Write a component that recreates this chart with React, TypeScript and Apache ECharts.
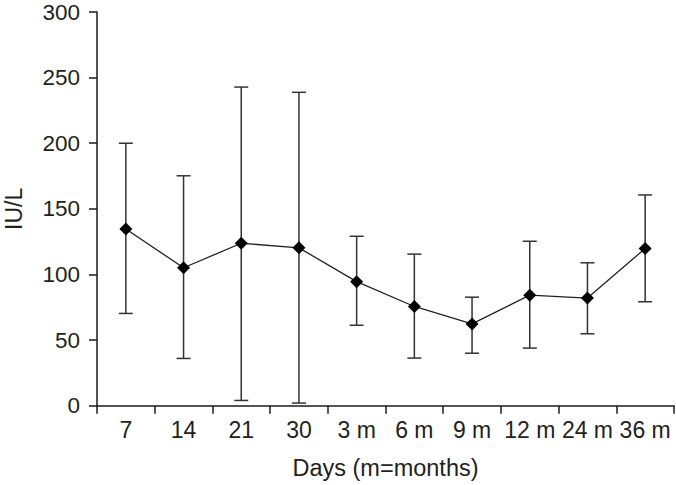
import React, { useEffect, useRef } from "react";
import * as echarts from "echarts";

const categories = ["7", "14", "21", "30", "3 m", "6 m", "9 m", "12 m", "24 m", "36 m"];
const means = [134.6, 105.1, 123.8, 120.3, 94.5, 75.6, 62.3, 84.2, 82.0, 119.8];
const upper = [200, 175.2, 242.8, 238.8, 129.1, 115.5, 82.7, 125.3, 108.9, 160.6];
const lower = [70.3, 36.0, 4.0, 2.0, 61.3, 36.3, 40.0, 43.9, 54.8, 79.2];
const yTicks = { min: 0, max: 300, interval: 50 };

const FONT = "'Liberation Sans', Arial, Helvetica, sans-serif";
const TEXT = "#231f20";

export default function App() {
  const ref = useRef<HTMLDivElement>(null);
  useEffect(() => {
    if (!ref.current) return;
    const chart = echarts.init(ref.current, undefined, { renderer: "svg" });
    const errData = categories.map((_, i) => [i, lower[i], upper[i]]);
    chart.setOption({
      animation: false,
      backgroundColor: "#ffffff",
      textStyle: { fontFamily: FONT },
      grid: { left: 97, right: 2, top: 12, bottom: 79.3, containLabel: false, outerBoundsMode: "none" },
      xAxis: {
        type: "category",
        data: categories,
        boundaryGap: true,
        name: "Days (m=months)",
        nameLocation: "middle",
        nameGap: 50,
        nameTextStyle: { fontSize: 23.5, color: TEXT, fontFamily: FONT },
        axisLine: { show: true, lineStyle: { color: "#1a1a1a", width: 1.5 } },
        axisTick: { show: true, length: 8, alignWithLabel: false, lineStyle: { color: "#1a1a1a", width: 1.5 } },
        axisLabel: { interval: 0, fontSize: 23, color: TEXT, margin: 13, fontFamily: FONT },
        splitLine: { show: false },
      },
      yAxis: {
        type: "value",
        min: yTicks.min,
        max: yTicks.max,
        interval: yTicks.interval,
        name: "IU/L",
        nameLocation: "middle",
        nameGap: 72,
        nameRotate: 90,
        nameTextStyle: { fontSize: 23, color: TEXT, fontFamily: FONT },
        axisLine: { show: true, lineStyle: { color: "#1a1a1a", width: 1.5 } },
        axisTick: { show: true, length: 8, lineStyle: { color: "#1a1a1a", width: 1.5 } },
        axisLabel: { fontSize: 22.5, color: TEXT, margin: 17, fontFamily: FONT },
        splitLine: { show: false },
      },
      series: [
        {
          type: "custom",
          z: 1,
          data: errData,
          encode: { x: 0, y: [1, 2] },
          renderItem: (params: any, api: any) => {
            const x = api.value(0);
            const lo = api.coord([x, api.value(1)]);
            const hi = api.coord([x, api.value(2)]);
            const half = 7;
            const style = { stroke: "#333333", lineWidth: 1.5, fill: "none" };
            return {
              type: "group",
              children: [
                { type: "line", shape: { x1: hi[0], y1: hi[1], x2: lo[0], y2: lo[1] }, style },
                { type: "line", shape: { x1: hi[0] - half, y1: hi[1], x2: hi[0] + half, y2: hi[1] }, style },
                { type: "line", shape: { x1: lo[0] - half, y1: lo[1], x2: lo[0] + half, y2: lo[1] }, style },
              ],
            };
          },
        },
        {
          type: "line",
          z: 3,
          data: means,
          symbol: "diamond",
          symbolSize: 13,
          itemStyle: { color: "#000000" },
          lineStyle: { color: "#222222", width: 1.3 },
        },
      ],
    });
    return () => chart.dispose();
  }, []);
  return (
    <div
      ref={ref}
      style={{ position: "fixed", left: 0, top: 0, width: 676, height: 485, background: "#fff" }}
    />
  );
}
